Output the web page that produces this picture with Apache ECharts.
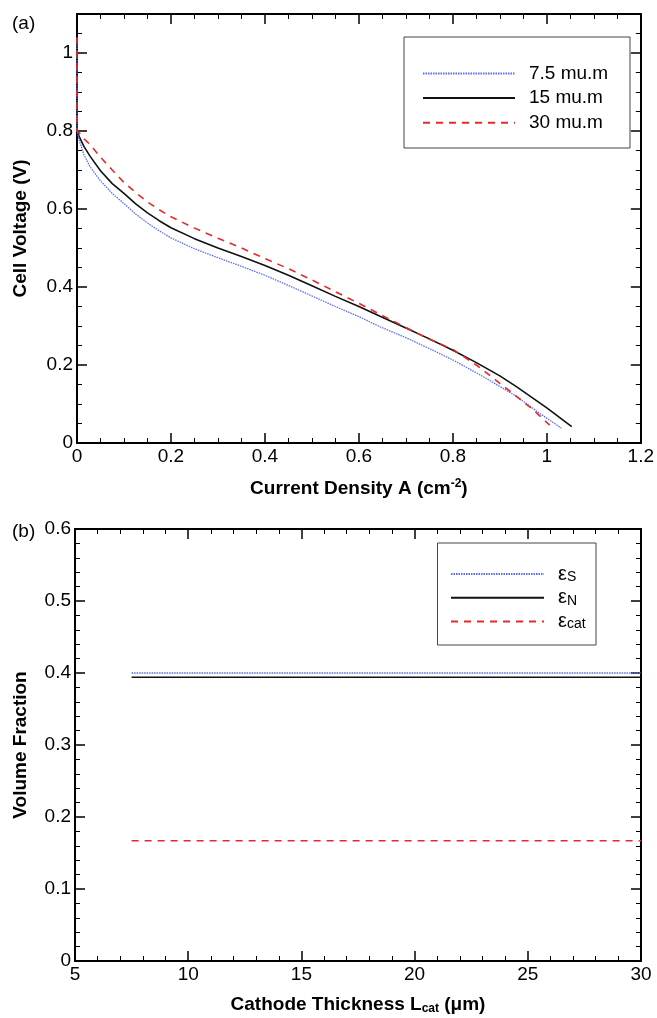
<!DOCTYPE html>
<html><head><meta charset="utf-8">
<script src="https://cdn.jsdelivr.net/npm/echarts@6/dist/echarts.min.js"></script>
<style>html,body{margin:0;padding:0;background:#fff}#c{width:657px;height:1018px}</style>
</head><body><div id="c"></div>
<script>
// ---- Panel (a) data ----
const seriesNamesA = ['7.5 mu.m', '15 mu.m', '30 mu.m'];
const x75 = [0, 0, 0.005, 0.015, 0.028, 0.05, 0.075, 0.1, 0.125, 0.15, 0.175, 0.2, 0.25, 0.3, 0.35, 0.4, 0.45, 0.5, 0.55, 0.6, 0.645, 0.7, 0.75, 0.8, 0.85, 0.9, 0.936, 0.98, 1.031];
const y75 = [1.04, 0.8, 0.775, 0.738, 0.708, 0.672, 0.64, 0.614, 0.587, 0.564, 0.544, 0.526, 0.498, 0.475, 0.453, 0.43, 0.404, 0.377, 0.35, 0.324, 0.298, 0.27, 0.242, 0.213, 0.18, 0.145, 0.119, 0.08, 0.038];
const x15 = [0, 0, 0.005, 0.015, 0.028, 0.05, 0.075, 0.1, 0.125, 0.15, 0.175, 0.2, 0.25, 0.3, 0.35, 0.4, 0.45, 0.5, 0.55, 0.6, 0.645, 0.7, 0.75, 0.8, 0.85, 0.9, 0.936, 1.0, 1.053];
const y15 = [1.04, 0.8, 0.785, 0.76, 0.735, 0.698, 0.665, 0.64, 0.613, 0.59, 0.57, 0.552, 0.524, 0.5, 0.478, 0.455, 0.43, 0.403, 0.376, 0.35, 0.325, 0.295, 0.267, 0.238, 0.206, 0.172, 0.144, 0.09, 0.042];
const x30 = [0, 0, 0.005, 0.015, 0.028, 0.05, 0.075, 0.1, 0.125, 0.15, 0.175, 0.2, 0.25, 0.3, 0.35, 0.4, 0.45, 0.5, 0.55, 0.6, 0.645, 0.7, 0.75, 0.8, 0.85, 0.9, 0.936, 0.971, 1.006];
const y30 = [1.04, 0.8, 0.795, 0.78, 0.765, 0.733, 0.7, 0.668, 0.642, 0.618, 0.598, 0.58, 0.551, 0.525, 0.5, 0.473, 0.447, 0.418, 0.388, 0.358, 0.33, 0.296, 0.266, 0.24, 0.2, 0.153, 0.119, 0.085, 0.046];
// ---- Panel (b) data ----
const thickness = [7.5, 30];
const epsS = [0.4, 0.4];
const epsN = [0.394, 0.394];
const epsCat = [0.167, 0.167];
const seriesNamesB = ['eS', 'eN', 'ecat'];

const pairs = (xs, ys) => xs.map((x, i) => [x, ys[i]]);
const FONT = 'Liberation Sans, Arial, sans-serif';
const blue = '#5a6cf2', black = '#111111', red = '#e8282a';
const LBL = 19;

function axisCommon(extra) {
  return Object.assign({
    axisLine: {show: true, onZero: false, lineStyle: {color: '#000', width: 2}},
    axisTick: {show: true, inside: true, length: 10, lineStyle: {color: '#000', width: 1.5}},
    splitLine: {show: false},
    axisLabel: {color: '#000', fontSize: LBL, fontFamily: FONT, margin: 4}
  }, extra);
}
const minor = n => ({show: true, splitNumber: n, length: 5, lineStyle: {color: '#000', width: 1}});
const noLabel = {show: false};
const titleRich = {
  t: {fontSize: 19, fontWeight: 'bold', fontFamily: FONT, color: '#000'},
  sup: {fontSize: 12, fontWeight: 'bold', fontFamily: FONT, color: '#000', verticalAlign: 'top', padding: [0, 0, 9, 0]},
  sub: {fontSize: 12, fontWeight: 'bold', fontFamily: FONT, color: '#000', verticalAlign: 'bottom', padding: [9, 0, 0, 0]}
};

const option = {
  animation: false,
  backgroundColor: '#fff',
  grid: [
    {left: 77, right: 16, top: 14, height: 429},
    {left: 75, right: 16, top: 529, height: 432}
  ],
  xAxis: [
    axisCommon({gridIndex: 0, type: 'value', min: 0, max: 1.2, interval: 0.2, position: 'bottom', minorTick: minor(4),
      name: '{t|Current Density A (cm}{sup|-2}{t|)}', nameLocation: 'middle', nameGap: 35,
      nameTextStyle: {rich: titleRich}}),
    axisCommon({gridIndex: 0, type: 'value', min: 0, max: 1.2, interval: 0.2, position: 'top', minorTick: minor(4), axisLabel: noLabel}),
    axisCommon({gridIndex: 1, type: 'value', min: 5, max: 30, interval: 5, position: 'bottom', minorTick: minor(5),
      name: '{t|Cathode Thickness L}{sub|cat}{t| (μm)}', nameLocation: 'middle', nameGap: 33,
      nameTextStyle: {rich: titleRich}}),
    axisCommon({gridIndex: 1, type: 'value', min: 5, max: 30, interval: 5, position: 'top', minorTick: minor(5), axisLabel: noLabel})
  ],
  yAxis: [
    axisCommon({gridIndex: 0, type: 'value', min: 0, max: 1.1, interval: 0.2, position: 'left', minorTick: minor(4),
      axisLabel: {color: '#000', fontSize: LBL, fontFamily: FONT, margin: 4, showMaxLabel: false},
      name: 'Cell Voltage (V)', nameLocation: 'middle', nameGap: 47, nameRotate: 90,
      nameTextStyle: {fontSize: 19, fontWeight: 'bold', fontFamily: FONT, color: '#000'}}),
    axisCommon({gridIndex: 0, type: 'value', min: 0, max: 1.1, interval: 0.2, position: 'right', minorTick: minor(4), axisLabel: noLabel}),
    axisCommon({gridIndex: 1, type: 'value', min: 0, max: 0.6, interval: 0.1, position: 'left', minorTick: minor(5),
      name: 'Volume Fraction', nameLocation: 'middle', nameGap: 45, nameRotate: 90,
      nameTextStyle: {fontSize: 19, fontWeight: 'bold', fontFamily: FONT, color: '#000'}}),
    axisCommon({gridIndex: 1, type: 'value', min: 0, max: 0.6, interval: 0.1, position: 'right', minorTick: minor(5), axisLabel: noLabel})
  ],
  legend: [
    {data: seriesNamesA, orient: 'vertical', left: 417, top: 59, itemWidth: 92, itemHeight: 14, itemGap: 5.6,
     itemStyle: {opacity: 0},
     textStyle: {fontSize: 19, lineHeight: 16, fontFamily: FONT, color: '#000', padding: [0, 0, 0, 9]}},
    {data: seriesNamesB, orient: 'vertical', left: 445, top: 559, itemWidth: 93, itemHeight: 14, itemGap: 3.8,
     itemStyle: {opacity: 0},
     formatter: function (n) { return '{e|ε}{s|' + n.slice(1).toUpperCase().replace('CAT', 'cat') + '}'; },
     textStyle: {fontSize: 19, fontFamily: FONT, color: '#000', padding: [0, 0, 0, 9],
       rich: {e: {fontSize: 20, lineHeight: 20, fontFamily: FONT, color: '#000'},
              s: {fontSize: 14, lineHeight: 10, fontFamily: FONT, color: '#000', verticalAlign: 'bottom'}}}}
  ],
  graphic: [
    {type: 'rect', shape: {x: 404, y: 37, width: 226, height: 111}, style: {fill: 'none', stroke: '#444', lineWidth: 1}, z: 10},
    {type: 'rect', shape: {x: 437.5, y: 543, width: 158.5, height: 102}, style: {fill: 'none', stroke: '#444', lineWidth: 1}, z: 10},
    {type: 'text', left: 12, top: 14, style: {text: '(a)', fontSize: 19, fontFamily: FONT, fill: '#000'}},
    {type: 'text', left: 12, top: 522, style: {text: '(b)', fontSize: 19, fontFamily: FONT, fill: '#000'}}
  ],
  series: [
    {name: seriesNamesA[0], type: 'line', xAxisIndex: 0, yAxisIndex: 0, symbol: 'none', data: pairs(x75, y75),
     lineStyle: {color: blue, width: 1.3, type: [1.5, 1]}, itemStyle: {color: blue}, z: 3},
    {name: seriesNamesA[1], type: 'line', xAxisIndex: 0, yAxisIndex: 0, symbol: 'none', data: pairs(x15, y15),
     lineStyle: {color: black, width: 1.6}, itemStyle: {color: black}, z: 2},
    {name: seriesNamesA[2], type: 'line', xAxisIndex: 0, yAxisIndex: 0, symbol: 'none', data: pairs(x30, y30),
     lineStyle: {color: red, width: 1.6, type: [7, 6]}, itemStyle: {color: red}, z: 4},
    {name: seriesNamesB[0], type: 'line', xAxisIndex: 2, yAxisIndex: 2, symbol: 'none', data: pairs(thickness, epsS),
     lineStyle: {color: blue, width: 1.3, type: [1.5, 1]}, itemStyle: {color: blue}},
    {name: seriesNamesB[1], type: 'line', xAxisIndex: 2, yAxisIndex: 2, symbol: 'none', data: pairs(thickness, epsN),
     lineStyle: {color: black, width: 1.6}, itemStyle: {color: black}},
    {name: seriesNamesB[2], type: 'line', xAxisIndex: 2, yAxisIndex: 2, symbol: 'none', data: pairs(thickness, epsCat),
     lineStyle: {color: red, width: 1.6, type: [7, 6]}, itemStyle: {color: red}}
  ]
};
const chart = echarts.init(document.getElementById('c'), null, {renderer: 'canvas'});
chart.setOption(option);
</script></body></html>
